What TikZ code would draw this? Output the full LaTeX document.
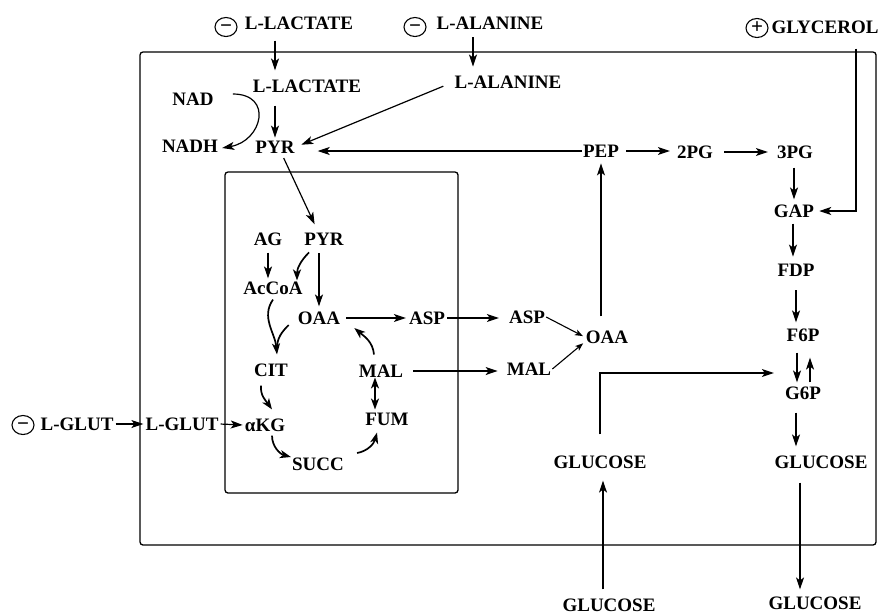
\documentclass[tikz,border=0pt]{standalone}
\usepackage{fontspec}
\setmainfont{Liberation Serif}
\usepackage{tikz}
\usetikzlibrary{shapes.geometric, arrows.meta, positioning, calc}
\tikzset{
  met/.style={inner sep=1pt, font=\bfseries\fontsize{19}{22}\selectfont},
  signcirc/.style={
    ellipse, draw, line width=1.1pt, minimum width=22pt, minimum height=19pt,
    inner sep=0pt, font=\bfseries\fontsize{21}{22}\selectfont
  },
  rxn/.style={
    -{Stealth[length=12pt, width=8pt, inset=3pt]}, line width=1.2pt
  },
  rxnsmall/.style={
    -{Stealth[length=8pt, width=6pt, inset=2pt]}, line width=1.1pt
  },
  cyc/.style={
    -{Stealth[length=11pt, width=8pt, inset=3pt]}, line width=1.7pt
  },
  compartment/.style={line width=1.3pt, rounded corners=3pt},
}
\newcommand{\minussign}{\raisebox{-5.2pt}[0pt][0pt]{−}}

\begin{document}
\begin{tikzpicture}[x=1pt, y=1pt]
  \useasboundingbox (0,0) rectangle (883,-614);

  % ── Compartments ──
  \draw[compartment] (140,-52) rectangle (876,-545);
  \draw[compartment] (225,-172) rectangle (458,-493);

  % ── External substrates ──
  \node[signcirc] (mlac) at (226,-27) {\minussign};
  \node[met] (lacout) at (299,-23) {L-LACTATE};
  \node[signcirc] (mala) at (415,-27) {\minussign};
  \node[met] (alaout) at (490,-23) {L-ALANINE};
  \node[signcirc] (pgly) at (757,-28) {+};
  \node[met] (glyc) at (825,-27) {GLYCEROL};
  \node[signcirc] (mglut) at (23,-425) {\minussign};
  \node[met] (glutout) at (77,-424) {L-GLUT};
  \node[met] (glcLo) at (609,-605) {GLUCOSE};
  \node[met] (glcRo) at (815,-603) {GLUCOSE};

  % ── Cytosol ──
  \node[met] (lacin) at (307,-86) {L-LACTATE};
  \node[met] (alain) at (508,-82) {L-ALANINE};
  \node[met] (nad) at (193,-99) {NAD};
  \node[met] (nadh) at (190,-146) {NADH};
  \node[met] (pyr) at (275,-147) {PYR};
  \node[met] (pep) at (601,-151) {PEP};
  \node[met] (pg2) at (695,-152) {2PG};
  \node[met] (pg3) at (795,-152) {3PG};
  \node[met] (gap) at (794,-211) {GAP};
  \node[met] (fdp) at (796,-270) {FDP};
  \node[met] (f6p) at (803,-335) {F6P};
  \node[met] (g6p) at (803,-393) {G6P};
  \node[met] (glcR) at (821,-462) {GLUCOSE};
  \node[met] (glcL) at (600,-462) {GLUCOSE};
  \node[met] (asp) at (527,-317) {ASP};
  \node[met] (oaa) at (607,-337) {OAA};
  \node[met] (mal) at (529,-369) {MAL};
  \node[met] (glutin) at (182,-424) {L-GLUT};

  % ── Mitochondrion ──
  \node[met] (pyri) at (324,-239) {PYR};
  \node[met] (ag) at (268,-239) {AG};
  \node[met] (accoa) at (273,-288) {AcCoA};
  \node[met] (oaai) at (319,-318) {OAA};
  \node[met] (aspi) at (427,-318) {ASP};
  \node[met] (cit) at (271,-370) {CIT};
  \node[met] (mali) at (381,-371) {MAL};
  \node[met] (akg) at (265,-425) {αKG};
  \node[met] (fum) at (387,-419) {FUM};
  \node[met] (succ) at (318,-464) {SUCC};

  % ── Uptake ──
  \draw[rxn, shorten <=10pt, shorten >=8pt] (pyr |- lacout.south) -- (pyr |- lacin.north);
  \draw[rxn, shorten <=7pt, shorten >=8pt] ([xshift=-17pt]alaout.south) -- ([xshift=-35pt]alain.north);
  \draw[rxn, shorten <=14pt, shorten >=4pt] ([xshift=31pt]glyc.south) |- (gap.east);
  \draw[rxn, shorten <=1pt, shorten >=1pt] (glutout) -- (glutin);
  \draw[rxn, shorten <=8pt, shorten >=11pt] ([xshift=-6pt]glcLo.north) -- ([xshift=3pt]glcL.south);
  \draw[rxn, shorten <=13pt, shorten >=6pt] ([xshift=-21pt]glcR.south) -- ([xshift=-15pt]glcRo.north);

  % ── Pyruvate ──
  \draw[rxn, shorten <=12pt, shorten >=2pt] (lacin.south -| pyr) -- (pyr.north);
  \draw[rxn, shorten <=11pt, shorten >=6pt] (alain.west) -- (pyr.east);
  \draw[rxn] ([xshift=18pt,yshift=5pt]nad.east) to[out=0, in=10, looseness=1.9] ([xshift=3pt,yshift=-2pt]nadh.east);
  \draw[rxn, shorten >=22pt] (pep.west) -- (pep.west -| pyr.east);
  \draw[rxn, shorten <=4pt, shorten >=8pt] ([xshift=7pt]pyr.south) -- ([xshift=-6pt]pyri.north);

  % ── Glycolysis / gluconeogenesis ──
  \draw[rxn, shorten <=13pt, shorten >=5pt] (pep.south |- oaa.north) -- (pep.south);
  \draw[rxn, shorten <=6pt, shorten >=6pt] (pep.east) -- (pep.east -| pg2.west);
  \draw[rxn, shorten <=10pt, shorten >=8pt] (pg2.east) -- (pg2.east -| pg3.west);
  \draw[rxn, shorten <=8pt, shorten >=4pt] (pg3.south -| gap) -- (gap.north);
  \draw[rxn, shorten <=5pt, shorten >=6pt] ([xshift=-1pt]gap.south) -- ([xshift=-3pt]fdp.north);
  \draw[rxn, shorten <=13pt, shorten >=5pt] (fdp.south) -- (fdp.south |- f6p.north);
  \draw[rxn, shorten <=10pt, shorten >=3pt] ([xshift=-6pt]f6p.south) -- ([xshift=-6pt]g6p.north);
  \draw[rxn, shorten <=3pt, shorten >=15pt] ([xshift=7pt]g6p.north) -- ([xshift=7pt]f6p.south);
  \draw[rxn, shorten <=12pt, shorten >=8pt] ([xshift=-7pt]g6p.south) -- ([xshift=-25pt]glcR.north);
  \draw[rxn, shorten <=20pt, shorten >=10pt] (glcL.north) |- ([yshift=20pt]g6p.west);
  \draw[rxnsmall, shorten >=2pt] (asp.east) -- (oaa.west);
  \draw[rxnsmall, shorten >=2pt] (mal.east) -- ([yshift=-5pt]oaa.west);

  % ── Export from the mitochondrion ──
  \draw[rxn, shorten <=1pt, shorten >=9pt] (aspi.east) -- (aspi.east -| asp.west);
  \draw[rxn, shorten <=9pt, shorten >=8pt] (mali.east) -- (mali.east -| mal.west);
  \draw[rxn, shorten <=5pt, shorten >=2pt] (oaai.east) -- (oaai.east -| aspi.west);
  \draw[rxn, shorten <=1pt, shorten >=1pt] (glutin.east) -- (akg.west);

  % ── TCA cycle ──
  \draw[rxn, shorten <=7pt, shorten >=4pt] (pyri.south -| oaai) -- (oaai.north);
  \draw[rxn, shorten <=6pt, shorten >=2pt] (ag.south) -- (ag.south |- accoa.north);
  \draw[cyc] ([xshift=-15pt,yshift=-6pt]pyri.south) to[out=225, in=90] ([xshift=24pt]accoa.north);
  \draw[cyc] ([yshift=-4pt]accoa.south) to[out=235, in=95] ([xshift=6pt,yshift=8pt]cit.north);
  \draw[line width=1.7pt] ([xshift=-8pt,yshift=-7pt]oaai.west) to[out=225, in=90] ([xshift=6pt,yshift=14pt]cit.north);
  \draw[cyc] ([xshift=-10pt,yshift=-8pt]cit.south) to[out=-95, in=125] ([xshift=7pt,yshift=8pt]akg.north);
  \draw[cyc] ([xshift=7pt,yshift=-3pt]akg.south) to[out=-90, in=165] ([yshift=7pt]succ.west);
  \draw[cyc] ([xshift=12pt,yshift=11pt]succ.east) to[out=10, in=-105] ([xshift=-10pt,yshift=-6pt]fum.south);
  \draw[{Stealth[length=11pt, width=8pt, inset=3pt]}-{Stealth[length=11pt, width=8pt, inset=3pt]}, line width=1.7pt]
    ([xshift=-6pt,yshift=1pt]mali.south) -- ([xshift=-12pt,yshift=2pt]fum.north);
  \draw[cyc] ([xshift=-7pt,yshift=9pt]mali.north) to[out=95, in=-40] ([xshift=13pt,yshift=-10pt]oaai.east);
\end{tikzpicture}
\end{document}
